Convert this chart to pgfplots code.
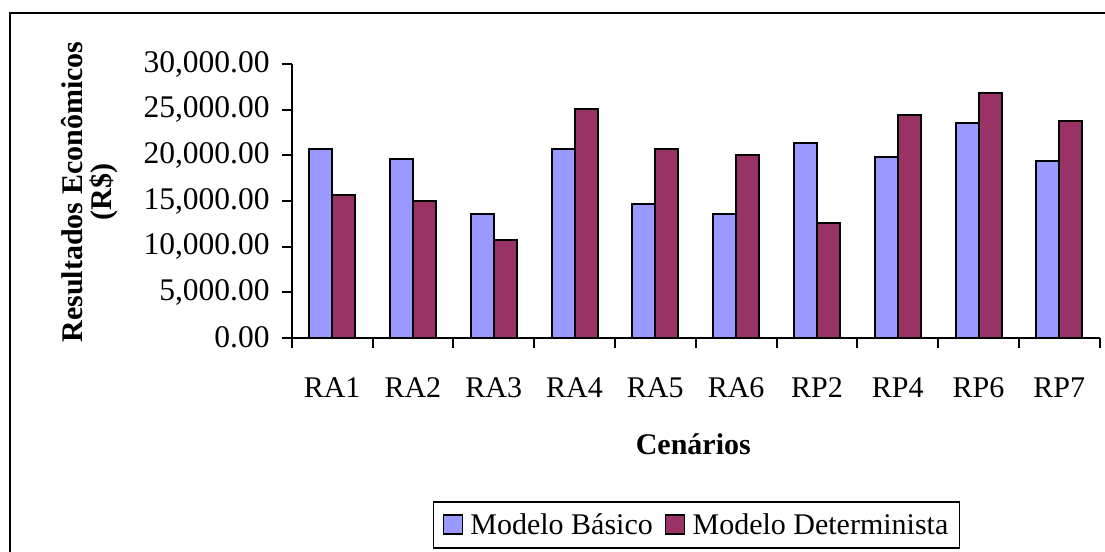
\documentclass[border=0pt]{standalone}
\usepackage{fontspec}
\setmainfont{Liberation Serif}
\usepackage{pgfplots}
\pgfplotsset{compat=1.18}
\definecolor{cblue}{HTML}{9999FF}
\definecolor{cred}{HTML}{993366}
\begin{document}
\begin{tikzpicture}[x=1bp,y=1bp]
\useasboundingbox (0,0) rectangle (1105,552);
\draw[line width=2bp] (10,-2) -- (10,538.7) -- (1107,538.7);
\begin{axis}[
  at={(291.7bp,214.3bp)}, anchor=south west,
  scale only axis, width=808bp, height=273.4bp,
  xmin=-0.5, xmax=9.5, ymin=0, ymax=30000,
  axis lines=left, axis line style={-, line width=2bp},
  ybar=0pt, bar width=23bp,
  xtick={0,...,9}, xticklabels={RA1,RA2,RA3,RA4,RA5,RA6,RP2,RP4,RP6,RP7},
  minor xtick={-0.5,0.5,...,9.5},
  major x tick style={draw=none},
  minor x tick style={black, line width=2bp},
  minor tick length=10bp,
  ytick={0,5000,...,30000},
  major tick length=10bp,
  tick align=outside,
  ytick style={black, line width=2bp},
  scaled y ticks=false,
  /pgf/number format/fixed, /pgf/number format/fixed zerofill,
  /pgf/number format/precision=2, /pgf/number format/1000 sep={,},
  /pgf/number format/assume math mode=true,
  tick label style={font=\fontsize{30bp}{36bp}\selectfont, inner sep=0pt},
  yticklabel style={anchor=east, xshift=-12bp, font=\fontsize{31.5bp}{36bp}\selectfont},
  xticklabel style={anchor=base, yshift=-50bp},
  ylabel={Resultados Econômicos\\(R\$)},
  ylabel style={at={(-0.25,0.533)}, anchor=center, align=center, font=\bfseries\fontsize{30bp}{29bp}\selectfont},
  xlabel={Cenários},
  xlabel style={at={(0.497,-0.429)}, anchor=base, font=\bfseries\fontsize{30bp}{36bp}\selectfont},
  legend columns=2,
  legend style={at={(0.501,-0.685)}, anchor=center, draw=black, line width=1.5bp,
    font=\fontsize{30bp}{36bp}\selectfont, inner xsep=9bp, inner ysep=10bp,
    /tikz/every even column/.append style={column sep=10bp}},
]
\addplot[fill=cblue, draw=black, line width=2bp,
  legend image code/.code={\draw[fill=cblue, draw=black, line width=1.5bp] (0bp,-9bp) rectangle (19bp,10bp); \path[draw=none, fill=none] (0bp,0bp) rectangle (25bp,0.1bp);}]
  coordinates {(0,20710) (1,19608) (2,13623) (3,20710) (4,14724) (5,13623) (6,21334) (7,19828) (8,23574) (9,19388)};
\addplot[fill=cred, draw=black, line width=2bp,
  legend image code/.code={\draw[fill=cred, draw=black, line width=1.5bp] (0bp,-9bp) rectangle (19bp,10bp); \path[draw=none, fill=none] (0bp,0bp) rectangle (25bp,0.1bp);}]
  coordinates {(0,15606) (1,14945) (2,10759) (3,25116) (4,20710) (5,20049) (6,12558) (7,24455) (8,26878) (9,23794)};
\legend{Modelo Básico, Modelo Determinista}
\end{axis}
\end{tikzpicture}
\end{document}
